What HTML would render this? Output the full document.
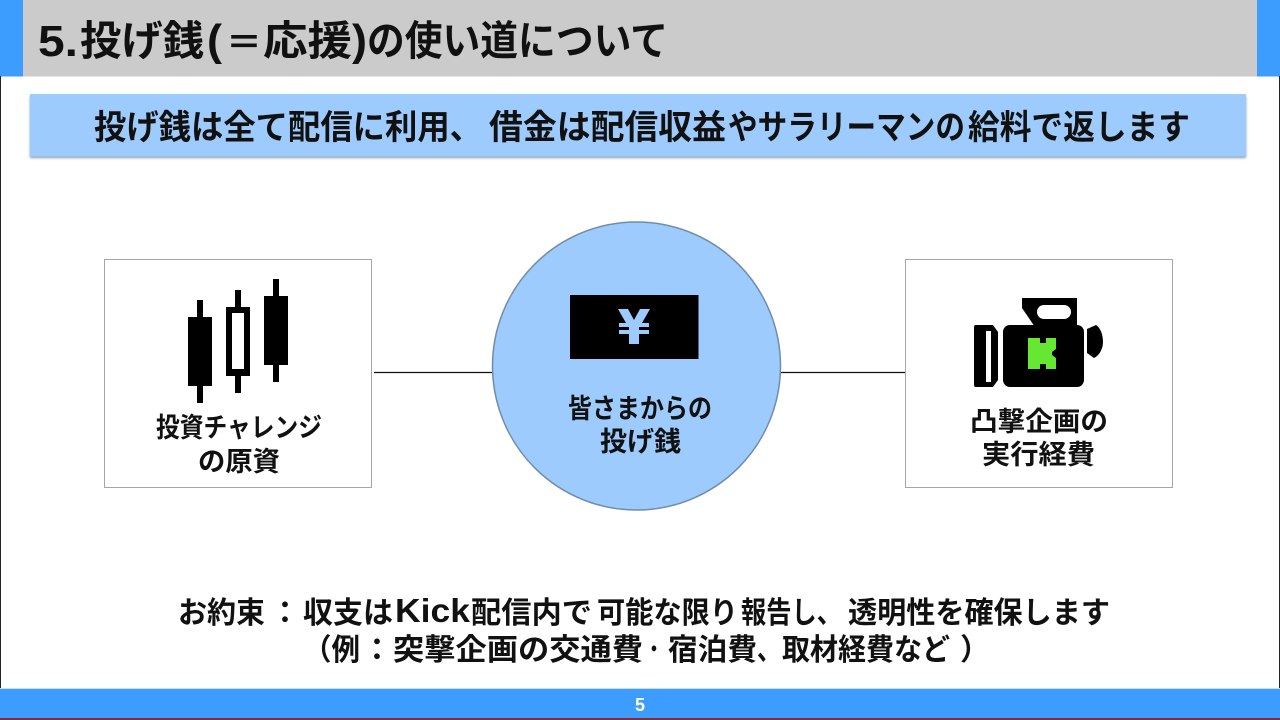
<!DOCTYPE html>
<html lang="ja"><head><meta charset="utf-8">
<style>
html,body{margin:0;padding:0;width:1280px;height:720px;overflow:hidden;background:#fff}
svg{display:block}
text{font-family:"Liberation Sans","Noto Sans CJK JP",sans-serif;font-weight:700;fill:#111}
</style></head><body>
<svg width="1280" height="720" viewBox="0 0 1280 720" xmlns="http://www.w3.org/2000/svg">
<defs><filter id="b" x="-2%" y="-20%" width="104%" height="150%"><feGaussianBlur stdDeviation="1.2"/></filter></defs>
<rect width="1280" height="720" fill="#fff"/>
<!-- header -->
<rect x="23" y="0" width="1234" height="76.5" fill="#cbcbcb"/>
<rect x="0" y="0" width="23" height="76.5" fill="#3d9dff"/>
<rect x="1257" y="0" width="23" height="76.5" fill="#3d9dff"/>
<text x="38" y="56" font-size="44" textLength="40" lengthAdjust="spacingAndGlyphs">5.</text>
<text x="80" y="55" font-size="41" textLength="124" lengthAdjust="spacingAndGlyphs">投げ銭</text>
<text x="207" y="55" font-size="44" textLength="15" lengthAdjust="spacingAndGlyphs">(</text>
<text x="226" y="55" font-size="36" textLength="36" lengthAdjust="spacingAndGlyphs">＝</text>
<text x="263" y="55" font-size="41" textLength="89" lengthAdjust="spacingAndGlyphs">応援</text>
<text x="352" y="55" font-size="44" textLength="15" lengthAdjust="spacingAndGlyphs">)</text>
<text x="367" y="55" font-size="41" textLength="301" lengthAdjust="spacingAndGlyphs">の使い道について</text>
<!-- banner -->
<rect x="30" y="96" width="1216" height="62" fill="#8a9aa8" filter="url(#b)"/>
<rect x="30" y="94" width="1216" height="62.5" fill="#9dcbfd"/>
<text x="94" y="139" font-size="34" textLength="388" lengthAdjust="spacingAndGlyphs">投げ銭は全て配信に利用、</text>
<text x="489" y="139" font-size="34" textLength="237" lengthAdjust="spacingAndGlyphs">借金は配信収益</text>
<text x="728" y="139" font-size="34" textLength="237" lengthAdjust="spacingAndGlyphs">やサラリーマンの</text>
<text x="968" y="139" font-size="34" textLength="222" lengthAdjust="spacingAndGlyphs">給料で返します</text>
<!-- connectors -->
<line x1="374" y1="372.5" x2="494" y2="372.5" stroke="#111" stroke-width="1.2"/>
<line x1="780" y1="372.5" x2="907" y2="372.5" stroke="#111" stroke-width="1.2"/>
<!-- left box -->
<rect x="104.5" y="259.5" width="267" height="228" fill="#fff" stroke="#a6a6a6" stroke-width="1"/>
<rect x="197" y="300" width="6" height="103" fill="#000"/><rect x="188" y="317" width="24" height="69" fill="#000"/>
<rect x="235" y="290" width="6" height="103" fill="#000"/><rect x="226" y="307" width="24" height="69" fill="#000"/><rect x="232" y="313" width="12" height="56" fill="#fff"/>
<rect x="273" y="279" width="6" height="103" fill="#000"/><rect x="264" y="296" width="24" height="69" fill="#000"/>
<text x="156" y="437" font-size="27" textLength="166" lengthAdjust="spacingAndGlyphs">投資チャレンジ</text>
<text x="198" y="471" font-size="27" textLength="82" lengthAdjust="spacingAndGlyphs">の原資</text>
<!-- circle -->
<circle cx="636.5" cy="366" r="144" fill="#9dcbfd" stroke="#6f8dab" stroke-width="1.5"/>
<rect x="570" y="295" width="128.5" height="64" fill="#000"/>
<path d="M618 309h10l6 11 6-11h10l-8 14h7v4h-10v3h10v4h-10v10h-10v-10h-10v-4h10v-3h-10v-4h7z" fill="#9dcbfd"/>
<text x="568" y="418" font-size="27" textLength="144" lengthAdjust="spacingAndGlyphs">皆さまからの</text>
<text x="600" y="451" font-size="27" textLength="81" lengthAdjust="spacingAndGlyphs">投げ銭</text>
<!-- right box -->
<rect x="905.5" y="259.5" width="267" height="228" fill="#fff" stroke="#a6a6a6" stroke-width="1"/>
<path d="M974 327q0-2 2-2h17l5 7v48l-5 7h-17q-2 0-2-2z" fill="#000"/>
<rect x="986" y="331" width="5" height="51" fill="#fff"/>
<path d="M1022 298h55v32h-40l-15-22z" fill="#000"/>
<rect x="1003" y="325" width="81" height="62" rx="7" fill="#000"/>
<rect x="1037" y="305" width="34" height="14" rx="7" fill="#fff"/>
<path d="M1087 329l9-4c5 3 7 11 7 17s-3 13-9 16l-7-5z" fill="#000"/>
<path d="M1028 338h12v5h6v-5h10v11l-4 3v3l4 3v11h-10v-5h-6v5h-12z" fill="#66e833"/>
<text x="970" y="431" font-size="27" textLength="138" lengthAdjust="spacingAndGlyphs">凸撃企画の</text>
<text x="982" y="464" font-size="27" textLength="113" lengthAdjust="spacingAndGlyphs">実行経費</text>
<!-- bottom text -->
<text x="178" y="623" font-size="30" textLength="87" lengthAdjust="spacingAndGlyphs">お約束</text>
<text x="270" y="623" font-size="30" textLength="30" lengthAdjust="spacingAndGlyphs">：</text>
<text x="303" y="623" font-size="30" textLength="90" lengthAdjust="spacingAndGlyphs">収支は</text>
<text x="395" y="622" font-size="33" textLength="75" lengthAdjust="spacingAndGlyphs">Kick</text>
<text x="471" y="623" font-size="30" textLength="121" lengthAdjust="spacingAndGlyphs">配信内で</text>
<text x="597" y="623" font-size="30" textLength="141" lengthAdjust="spacingAndGlyphs">可能な限り</text>
<text x="741" y="623" font-size="30" textLength="101" lengthAdjust="spacingAndGlyphs">報告し、</text>
<text x="848" y="623" font-size="30" textLength="262" lengthAdjust="spacingAndGlyphs">透明性を確保します</text>
<text x="303" y="660" font-size="30" textLength="57" lengthAdjust="spacingAndGlyphs">（例</text>
<text x="362" y="660" font-size="30" textLength="30" lengthAdjust="spacingAndGlyphs">：</text>
<text x="393" y="660" font-size="30" textLength="250" lengthAdjust="spacingAndGlyphs">突撃企画の交通費</text>
<text x="648" y="660" font-size="30" textLength="12" lengthAdjust="spacingAndGlyphs">･</text>
<text x="668" y="660" font-size="30" textLength="89" lengthAdjust="spacingAndGlyphs">宿泊費</text>
<text x="757" y="660" font-size="30" textLength="24" lengthAdjust="spacingAndGlyphs">、</text>
<text x="782" y="660" font-size="30" textLength="168" lengthAdjust="spacingAndGlyphs">取材経費など</text>
<text x="960" y="660" font-size="30" textLength="30" lengthAdjust="spacingAndGlyphs">）</text>
<!-- footer -->
<rect x="0" y="688" width="1280" height="1" fill="#bfe0ff"/>
<rect x="0" y="689" width="1280" height="29" fill="#3d9dff"/>
<rect x="0" y="718" width="1280" height="2" fill="#8a2b30"/>
<text x="640" y="711" font-size="18" text-anchor="middle" style="fill:#fff">5</text>
<!-- edges -->
<rect x="0" y="76" width="1" height="612" fill="#222"/>
<rect x="1279" y="76" width="1" height="612" fill="#222"/>
</svg>
</body></html>
